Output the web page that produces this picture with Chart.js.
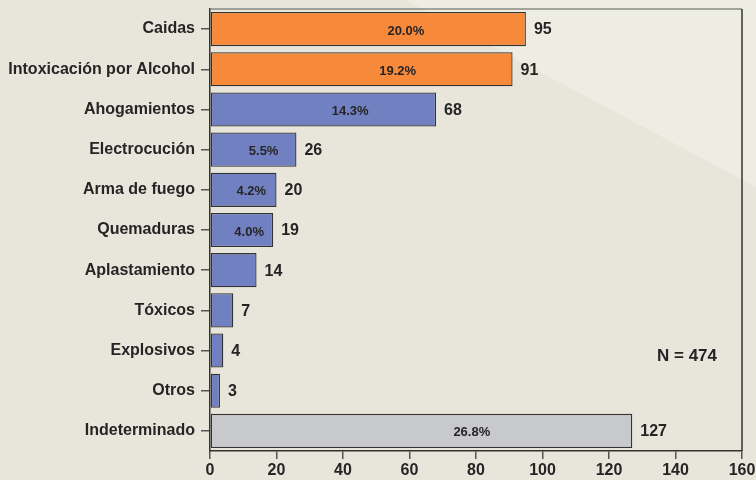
<!DOCTYPE html>
<html lang="es">
<head>
  <meta charset="UTF-8">
  <title>Causas</title>
  <script src="https://cdn.jsdelivr.net/npm/chart.js"></script>
  <style>
    body {
      margin: 0;
      padding: 0;
      background: #e8e5da;
    }
    .wrap {
      position: relative;
      width: 756px;
      height: 480px;
    }
  </style>
</head>
<body>
<div class="wrap">
  <canvas id="chart" width="756" height="480"></canvas>
</div>

<script>
  var categories = ['Caidas', 'Intoxicación por Alcohol', 'Ahogamientos', 'Electrocución', 'Arma de fuego',
    'Quemaduras', 'Aplastamiento', 'Tóxicos', 'Explosivos', 'Otros', 'Indeterminado'];
  var counts = [95, 91, 68, 26, 20, 19, 14, 7, 4, 3, 127];
  var percents = ['20.0%', '19.2%', '14.3%', '5.5%', '4.2%', '4.0%', null, null, null, null, '26.8%'];
  var barColors = ['#f68a3a', '#f68a3a', '#7180c1', '#7180c1', '#7180c1', '#7180c1', '#7180c1',
    '#7180c1', '#7180c1', '#7180c1', '#c8c9cc'];
  var xTicks = [0, 20, 40, 60, 80, 100, 120, 140, 160];
  var totalLabel = 'N = 474';

  var font = '"Liberation Sans", Arial, sans-serif';
  var ink = '#262424';

  // background with the light diagonal wedge top right
  var backdrop = {
    id: 'backdrop',
    beforeDraw: function(chart) {
      var ctx = chart.ctx;
      ctx.save();
      ctx.fillStyle = '#e8e5da';
      ctx.fillRect(0, 0, chart.width, chart.height);
      ctx.fillStyle = '#eeede3';
      ctx.beginPath();
      ctx.moveTo(405, 0);
      ctx.lineTo(chart.width, 0);
      ctx.lineTo(chart.width, 187);
      ctx.closePath();
      ctx.fill();
      ctx.restore();
    }
  };

  // frame, value labels, percentages, N
  var labels = {
    id: 'labels',
    afterDatasetsDraw: function(chart) {
      var ctx = chart.ctx;
      var area = chart.chartArea;
      var xs = chart.scales.x;
      var meta = chart.getDatasetMeta(0);
      ctx.save();

      ctx.strokeStyle = '#8a8a86';
      ctx.lineWidth = 1.5;
      ctx.beginPath();
      ctx.moveTo(area.left, area.top);
      ctx.lineTo(area.right, area.top);
      ctx.stroke();
      ctx.strokeStyle = '#333';
      ctx.beginPath();
      ctx.moveTo(area.right, area.top);
      ctx.lineTo(area.right, area.bottom);
      ctx.stroke();

      ctx.fillStyle = ink;
      ctx.textBaseline = 'middle';
      meta.data.forEach(function(bar, i) {
        ctx.font = 'bold 16px ' + font;
        ctx.textAlign = 'left';
        ctx.fillText(String(counts[i]), bar.x + 8, bar.y + 1);
        if (percents[i]) {
          ctx.font = 'bold 13px ' + font;
          ctx.textAlign = 'center';
          var x0 = xs.getPixelForValue(0);
          ctx.fillText(percents[i], x0 + (bar.x - x0) * 0.62, bar.y + 2);
        }
      });

      ctx.font = 'bold 17px ' + font;
      ctx.textAlign = 'left';
      ctx.fillText(totalLabel, 657, 356);
      ctx.restore();
    }
  };

  new Chart(document.getElementById('chart').getContext('2d'), {
    type: 'bar',
    data: {
      labels: categories,
      datasets: [{
        data: counts,
        backgroundColor: barColors,
        borderColor: '#333',
        borderWidth: 1.3,
        borderSkipped: false,
        categoryPercentage: 1,
        barPercentage: 0.85
      }]
    },
    options: {
      indexAxis: 'y',
      responsive: false,
      animation: false,
      layout: { padding: { top: 9, right: 14, left: 0, bottom: 0 } },
      plugins: {
        legend: { display: false },
        tooltip: { enabled: false }
      },
      scales: {
        x: {
          min: xTicks[0],
          max: xTicks[xTicks.length - 1],
          afterBuildTicks: function(scale) {
            scale.ticks = xTicks.map(function(v) { return { value: v }; });
          },
          grid: { drawOnChartArea: false, drawTicks: true, tickLength: 8, color: '#555', lineWidth: 1.5 },
          border: { display: true, color: '#333', width: 1.5 },
          ticks: { color: ink, font: { family: font, size: 16, weight: 'bold' }, padding: 2 },
          afterFit: function(scale) {
            scale.height = 29;
            scale.paddingLeft = 0;
            scale.paddingRight = 0;
          }
        },
        y: {
          grid: { drawOnChartArea: false, drawTicks: true, tickLength: 9, color: '#555', lineWidth: 1.5, offset: false },
          border: { display: true, color: '#333', width: 1.5 },
          ticks: { color: ink, font: { family: font, size: 16, weight: 'bold' }, padding: 6 },
          afterFit: function(scale) {
            scale.width = 210;
            scale.paddingTop = 0;
            scale.paddingBottom = 0;
          }
        }
      }
    },
    plugins: [backdrop, labels]
  });
</script>
</body>
</html>
